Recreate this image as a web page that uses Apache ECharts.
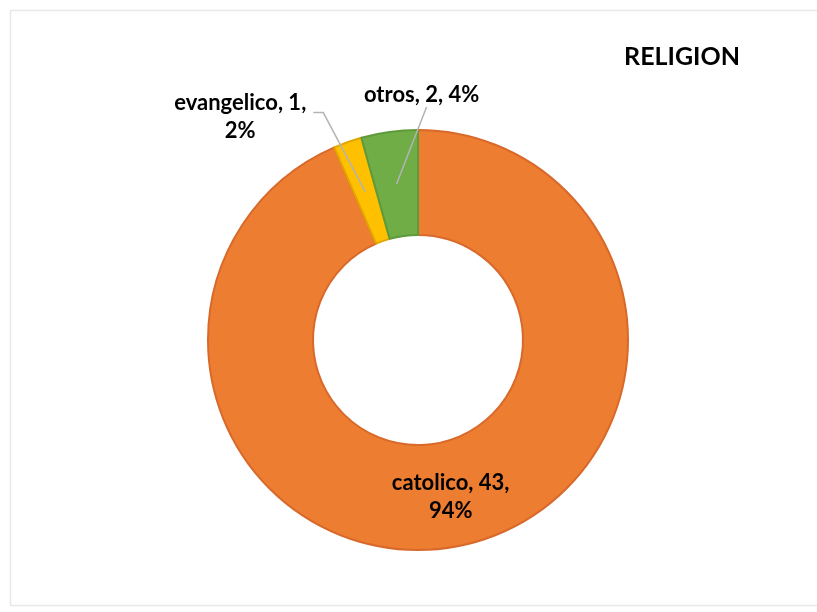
<!DOCTYPE html>
<html>
<head>
<meta charset="utf-8">
<script src="https://cdn.jsdelivr.net/npm/echarts@6/dist/echarts.min.js"></script>
<style>
  html, body { margin: 0; padding: 0; background: #ffffff; }
  #chart { width: 817px; height: 612px; }
</style>
</head>
<body>
<div id="chart"></div>
<script>
// Religion breakdown (counts)
const categories = ['catolico', 'evangelico', 'otros'];
const counts = [43, 1, 2];
const titleText = 'RELIGION';

const sliceColors = ['#ED7D31', '#FFC000', '#70AD47'];
const sliceEdges = ['#D8692A', '#E3A600', '#5E9A3A'];

const CX = 418, CY = 340, R_IN = 105, R_OUT = 210;
const R_MID = (R_IN + R_OUT) / 2;

// mid-ring point of each slice (clockwise from 12 o'clock), used to anchor leader lines
const total = counts.reduce((a, b) => a + b, 0);
const midPoints = [];
let acc = 0;
counts.forEach(v => {
  const a = (acc + v / 2) / total * Math.PI * 2;
  midPoints.push([CX + R_MID * Math.sin(a), CY - R_MID * Math.cos(a)]);
  acc += v;
});

// label / leader-line offsets relative to the slice mid-ring point
const outsideLayout = {
  1: { label: [-125, -75], line: [[-42, -79], [-52, -79]] },
  2: { label: [25, -89], line: [[30, -77], [30, -77]] }
};

const labelText = {
  fontFamily: 'Lato',
  fontWeight: 'bold',
  fontSize: 22,
  lineHeight: 28,
  color: '#000000',
  align: 'center',
  formatter: p => p.name === 'otros'
    ? p.name + ', ' + p.value + ', ' + p.percent + '%'
    : p.name + ', ' + p.value + ',\n' + p.percent + '%'
};

const chart = echarts.init(document.getElementById('chart'), null, { renderer: 'canvas' });

chart.setOption({
  backgroundColor: '#ffffff',
  animation: false,
  title: {
    text: titleText,
    right: 72,
    top: 39,
    textStyle: { fontFamily: 'Lato', fontWeight: 'bold', fontSize: 25, color: '#000000' }
  },
  graphic: [{
    type: 'rect',
    left: 8, top: 8,
    shape: { width: 830, height: 595 },
    style: { fill: 'none', stroke: '#e8e8e8', lineWidth: 1.5 },
    silent: true
  }],
  series: [
    // the donut itself, with the inside label of the large slice
    {
      type: 'pie',
      z: 2,
      center: [CX, CY],
      radius: [R_IN, R_OUT],
      startAngle: 90,
      clockwise: true,
      percentPrecision: 0,
      avoidLabelOverlap: false,
      data: categories.map((name, i) => ({
        name,
        value: counts[i],
        itemStyle: { color: sliceColors[i], borderColor: sliceEdges[i], borderWidth: 2 },
        label: { show: i === 0, position: 'inside' },
        labelLine: { show: false }
      })),
      label: labelText
    },
    // transparent overlay carrying the outside labels, so leader lines sit above the ring
    {
      type: 'pie',
      z: 4,
      silent: true,
      center: [CX, CY],
      radius: [R_IN, R_OUT],
      startAngle: 90,
      clockwise: true,
      percentPrecision: 0,
      avoidLabelOverlap: false,
      itemStyle: { color: 'rgba(0,0,0,0)', borderWidth: 0 },
      data: categories.map((name, i) => ({
        name,
        value: counts[i],
        label: { show: i !== 0, position: 'outside' },
        labelLine: { show: i !== 0 }
      })),
      label: labelText,
      labelLine: { showAbove: true, lineStyle: { color: '#B4B4B4', width: 1.5 } },
      labelLayout: params => {
        const cfg = outsideLayout[params.dataIndex];
        if (!cfg) return {};
        const m = midPoints[params.dataIndex];
        return {
          x: m[0] + cfg.label[0],
          y: m[1] + cfg.label[1],
          align: 'center',
          verticalAlign: 'middle',
          labelLinePoints: [
            [m[0], m[1]],
            [m[0] + cfg.line[0][0], m[1] + cfg.line[0][1]],
            [m[0] + cfg.line[1][0], m[1] + cfg.line[1][1]]
          ]
        };
      }
    }
  ]
});
</script>
</body>
</html>
